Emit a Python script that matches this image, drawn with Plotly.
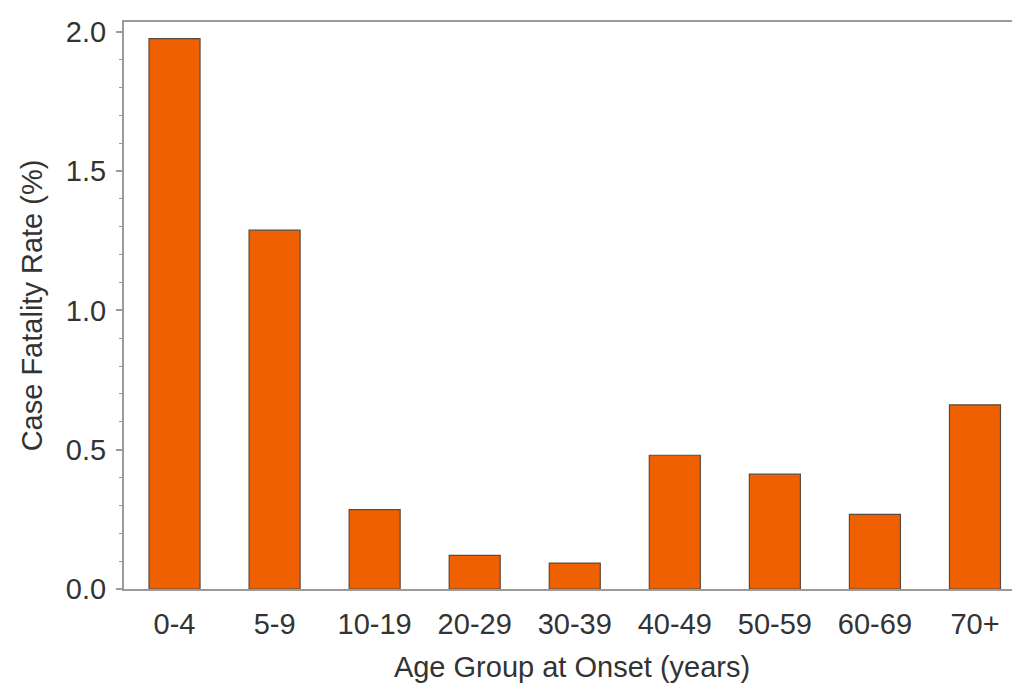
import plotly.graph_objects as go

age_groups = ["0-4", "5-9", "10-19", "20-29", "30-39", "40-49", "50-59", "60-69", "70+"]
cfr_values = [1.975, 1.288, 0.285, 0.121, 0.093, 0.48, 0.412, 0.268, 0.661]
y_tick_vals = [0.0, 0.5, 1.0, 1.5, 2.0]
y_tick_text = ["0.0", "0.5", "1.0", "1.5", "2.0"]

FONT = "Liberation Sans, Arial, sans-serif"
TXT = "#333333"
AXIS = "#9a9a9a"

fig = go.Figure(
    go.Bar(
        x=age_groups,
        y=cfr_values,
        marker=dict(color="#EE6000", line=dict(color="#5a4a40", width=1.2)),
        width=0.51,
    )
)

fig.update_layout(
    width=1020,
    height=691,
    margin=dict(l=116, r=8, t=9, b=110),
    paper_bgcolor="white",
    plot_bgcolor="white",
    showlegend=False,
    font=dict(family=FONT, size=29, color=TXT),
)

fig.update_xaxes(
    type="category",
    range=[-0.505, 8.45],
    showline=True,
    linecolor=AXIS,
    linewidth=2,
    mirror=True,
    ticks="",
    showgrid=False,
    zeroline=False,
    tickfont=dict(family=FONT, size=29, color=TXT),
    ticklabelstandoff=8,
    title=dict(text="Age Group at Onset (years)", font=dict(family=FONT, size=29, color=TXT), standoff=18),
)

fig.update_yaxes(
    range=[0, 2.035],
    showline=True,
    linecolor=AXIS,
    linewidth=2,
    mirror=False,
    ticks="outside",
    ticklen=6,
    tickwidth=1.5,
    tickcolor=AXIS,
    tickvals=y_tick_vals,
    ticktext=y_tick_text,
    minor=dict(dtick=0.1, tick0=0, ticks="outside", ticklen=3, tickcolor=AXIS, tickwidth=1, showgrid=False),
    showgrid=False,
    zeroline=False,
    tickfont=dict(family=FONT, size=29, color=TXT),
    ticklabelstandoff=4,
    title=dict(text="Case Fatality Rate (%)", font=dict(family=FONT, size=29, color=TXT), standoff=15),
)

fig.write_html("out.html")
